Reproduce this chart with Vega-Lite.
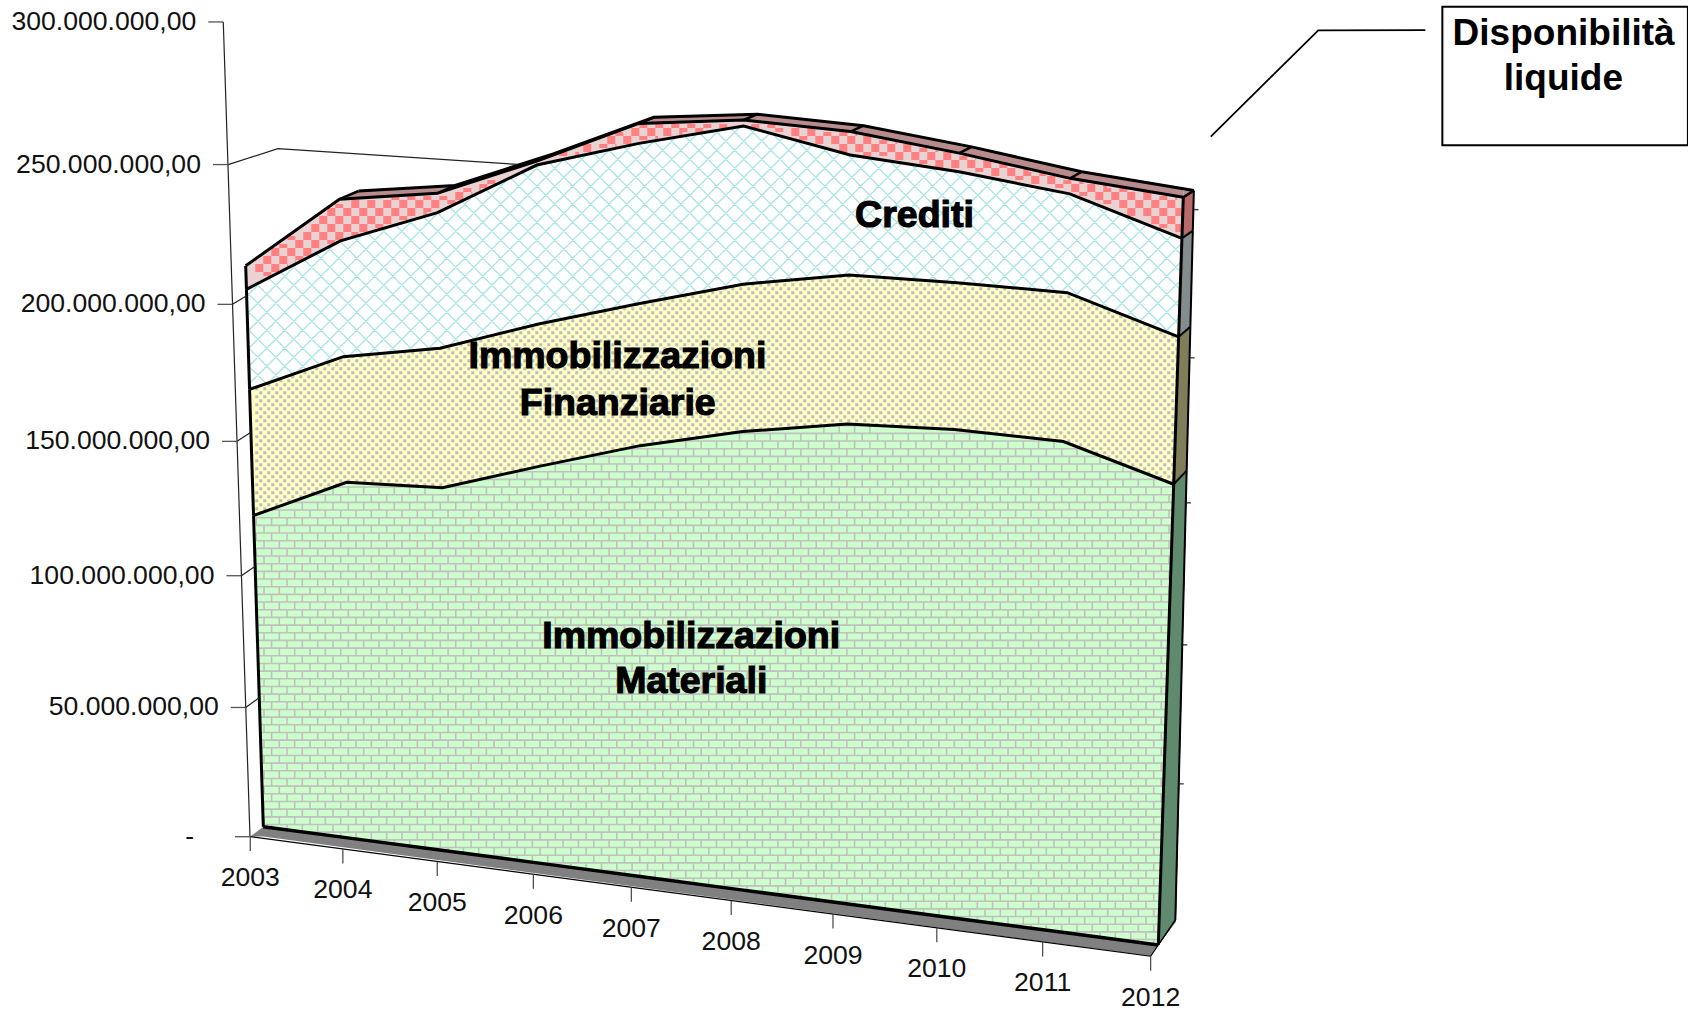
{"$schema":"https://vega.github.io/schema/vega-lite/v6.json","width":1688,"height":1012,"autosize":"none","padding":0,"background":"white","config":{"view":{"stroke":null}},
"data":{"values":[
{"part":"series","series":"Immobilizzazioni Materiali","rank":1,"year":2003,"value":119000000},{"part":"series","series":"Immobilizzazioni Finanziarie","rank":2,"year":2003,"value":46800000},{"part":"series","series":"Crediti","rank":3,"year":2003,"value":36500000},{"part":"series","series":"Disponibilità liquide","rank":4,"year":2003,"value":8500000},
{"part":"series","series":"Immobilizzazioni Materiali","rank":1,"year":2004,"value":134800000},{"part":"series","series":"Immobilizzazioni Finanziarie","rank":2,"year":2004,"value":45900000},{"part":"series","series":"Crediti","rank":3,"year":2004,"value":41600000},{"part":"series","series":"Disponibilità liquide","rank":4,"year":2004,"value":14800000},
{"part":"series","series":"Immobilizzazioni Materiali","rank":1,"year":2005,"value":136200000},{"part":"series","series":"Immobilizzazioni Finanziarie","rank":2,"year":2005,"value":50400000},{"part":"series","series":"Crediti","rank":3,"year":2005,"value":48100000},{"part":"series","series":"Disponibilità liquide","rank":4,"year":2005,"value":6800000},
{"part":"series","series":"Immobilizzazioni Materiali","rank":1,"year":2006,"value":147400000},{"part":"series","series":"Immobilizzazioni Finanziarie","rank":2,"year":2006,"value":50700000},{"part":"series","series":"Crediti","rank":3,"year":2006,"value":55500000},{"part":"series","series":"Disponibilità liquide","rank":4,"year":2006,"value":1400000},
{"part":"series","series":"Immobilizzazioni Materiali","rank":1,"year":2007,"value":158000000},{"part":"series","series":"Immobilizzazioni Finanziarie","rank":2,"year":2007,"value":50000000},{"part":"series","series":"Crediti","rank":3,"year":2007,"value":55200000},{"part":"series","series":"Disponibilità liquide","rank":4,"year":2007,"value":6800000},
{"part":"series","series":"Immobilizzazioni Materiali","rank":1,"year":2008,"value":166200000},{"part":"series","series":"Immobilizzazioni Finanziarie","rank":2,"year":2008,"value":51200000},{"part":"series","series":"Crediti","rank":3,"year":2008,"value":53800000},{"part":"series","series":"Disponibilità liquide","rank":4,"year":2008,"value":2000000},
{"part":"series","series":"Immobilizzazioni Materiali","rank":1,"year":2009,"value":172000000},{"part":"series","series":"Immobilizzazioni Finanziarie","rank":2,"year":2009,"value":51200000},{"part":"series","series":"Crediti","rank":3,"year":2009,"value":40400000},{"part":"series","series":"Disponibilità liquide","rank":4,"year":2009,"value":7800000},
{"part":"series","series":"Immobilizzazioni Materiali","rank":1,"year":2010,"value":173300000},{"part":"series","series":"Immobilizzazioni Finanziarie","rank":2,"year":2010,"value":49900000},{"part":"series","series":"Crediti","rank":3,"year":2010,"value":37000000},{"part":"series","series":"Disponibilità liquide","rank":4,"year":2010,"value":6200000},
{"part":"series","series":"Immobilizzazioni Materiali","rank":1,"year":2011,"value":172400000},{"part":"series","series":"Immobilizzazioni Finanziarie","rank":2,"year":2011,"value":50100000},{"part":"series","series":"Crediti","rank":3,"year":2011,"value":32700000},{"part":"series","series":"Disponibilità liquide","rank":4,"year":2011,"value":5100000},
{"part":"series","series":"Immobilizzazioni Materiali","rank":1,"year":2012,"value":161200000},{"part":"series","series":"Immobilizzazioni Finanziarie","rank":2,"year":2012,"value":49400000},{"part":"series","series":"Crediti","rank":3,"year":2012,"value":32400000},{"part":"series","series":"Disponibilità liquide","rank":4,"year":2012,"value":13400000},
{"part":"sky","year":2003,"value":210800000},{"part":"sky","year":2004,"value":237100000},{"part":"sky","year":2004,"value":237100000,"depth":1},{"part":"sky","year":2005,"value":241500000,"depth":1},{"part":"sky","year":2006,"value":255000000,"depth":1},{"part":"sky","year":2007,"value":270000000,"depth":1},{"part":"sky","year":2008,"value":273200000,"depth":1},{"part":"sky","year":2009,"value":271400000,"depth":1},{"part":"sky","year":2010,"value":266400000,"depth":1},{"part":"sky","year":2011,"value":260300000,"depth":1},{"part":"sky","year":2012,"value":256400000,"depth":1},
{"part":"anchor","year":2003,"value":0},
{"part":"lm","year":2003,"value":320000000,"depth2":1},{"part":"lm","year":2003,"value":210800000},{"part":"lm","year":2003,"value":-60000000},
{"part":"rm","year":2012,"value":320000000},{"part":"rm","year":2012,"value":256400000,"depth":1},{"part":"rm","year":2012,"value":0,"depth":1},{"part":"rm","year":2012,"value":0},{"part":"rm","year":2012,"value":-10000000},
{"part":"side","band":1,"year":2012,"value":256400000,"depth":1,"depth2":1},{"part":"side","band":1,"year":2012,"value":256400000,"depth":0,"depth2":1},{"part":"side","band":1,"year":2012,"value":8500000,"depth":0,"depth2":1},{"part":"side","band":1,"year":2012,"value":0,"depth":0,"depth2":0},
{"part":"side","band":2,"year":2012,"value":243000000,"depth":1,"depth2":1},{"part":"side","band":2,"year":2012,"value":243000000,"depth":0,"depth2":1},{"part":"side","band":2,"year":2012,"value":8500000,"depth":0,"depth2":1},{"part":"side","band":2,"year":2012,"value":0,"depth":0,"depth2":0},
{"part":"side","band":3,"year":2012,"value":210600000,"depth":1,"depth2":1},{"part":"side","band":3,"year":2012,"value":210600000,"depth":0,"depth2":1},{"part":"side","band":3,"year":2012,"value":8500000,"depth":0,"depth2":1},{"part":"side","band":3,"year":2012,"value":0,"depth":0,"depth2":0},
{"part":"side","band":4,"year":2012,"value":161200000,"depth":1,"depth2":1},{"part":"side","band":4,"year":2012,"value":161200000,"depth":0,"depth2":1},{"part":"side","band":4,"year":2012,"value":8500000,"depth":0,"depth2":1},{"part":"side","band":4,"year":2012,"value":0,"depth":0,"depth2":0},
{"part":"cap","year":2012,"value":256400000,"depth":0},{"part":"cap","year":2012,"value":256400000,"depth":1},
{"part":"floor","year":2003,"value":0,"depth":-0.45,"depth2":-0.45},{"part":"floor","year":2003,"value":0,"depth":0,"depth2":-0.45},{"part":"floor","year":2012,"value":0,"depth":-0.45,"depth2":0},{"part":"floor","year":2012,"value":0,"depth":0,"depth2":0},
{"part":"wall","year":2003,"value":249000000,"depth":-0.72},{"part":"wall","year":2003,"value":248000000,"depth":1.8},{"part":"wall","year":2005.5,"value":248000000,"depth":1.8},
{"part":"y","year":2003,"value":0,"label":"-"},{"part":"y","year":2003,"value":50000000,"label":"50.000.000,00"},{"part":"y","year":2003,"value":100000000,"label":"100.000.000,00"},{"part":"y","year":2003,"value":150000000,"label":"150.000.000,00"},{"part":"y","year":2003,"value":200000000,"label":"200.000.000,00"},{"part":"y","year":2003,"value":250000000,"label":"250.000.000,00"},{"part":"y","year":2003,"value":300000000,"label":"300.000.000,00"},
{"part":"x","year":2003,"value":0,"depth":-0.45},{"part":"x","year":2004,"value":0,"depth":-0.45},{"part":"x","year":2005,"value":0,"depth":-0.45},{"part":"x","year":2006,"value":0,"depth":-0.45},{"part":"x","year":2007,"value":0,"depth":-0.45},{"part":"x","year":2008,"value":0,"depth":-0.45},{"part":"x","year":2009,"value":0,"depth":-0.45},{"part":"x","year":2010,"value":0,"depth":-0.45},{"part":"x","year":2011,"value":0,"depth":-0.45},{"part":"x","year":2012,"value":0,"depth":-0.45},
{"part":"rt","year":2012,"value":50000000,"depth":1},{"part":"rt","year":2012,"value":100000000,"depth":1},{"part":"rt","year":2012,"value":150000000,"depth":1},{"part":"rt","year":2012,"value":200000000,"depth":1},{"part":"rt","year":2012,"value":250000000,"depth":1},
{"part":"note","year":2009.6,"value":244700000,"label":"Crediti"},{"part":"note","year":2006.78,"value":188500000,"label":"Immobilizzazioni"},{"part":"note","year":2006.78,"value":172100000,"label":"Finanziarie"},{"part":"note","year":2007.5,"value":91200000,"label":"Immobilizzazioni"},{"part":"note","year":2007.5,"value":74500000,"label":"Materiali"},
{"part":"note2","year":2015.12,"value":311100000,"label":"Disponibilità"},{"part":"note2","year":2015.14,"value":297100000,"label":"liquide"},
{"part":"call","year":2012.22,"value":276500000},{"part":"call","year":2013.1,"value":312000000},{"part":"call","year":2013.99,"value":313600000},
{"part":"box","year":2014.12,"value":321100000,"year2":2016.16,"value2":282200000}
]},
"transform":[
{"calculate":"datum.part=='series'?'g'+datum.year:datum.part+datum.year+'_'+datum.value+'_'+datum.depth+'_'+datum.depth2+'_'+datum.band","as":"gid"},
{"stack":"value","groupby":["gid"],"sort":[{"field":"rank","order":"ascending"}],"as":["base","lvl"]},
{"calculate":"(datum.year-2003)/9","as":"s"},
{"calculate":"datum.lvl/3e8","as":"t"},
{"calculate":"datum.base/3e8","as":"tb"},
{"calculate":"1-0.08326*datum.s-0.05531*datum.t","as":"w"},
{"calculate":"1-0.08326*datum.s-0.05531*datum.tb","as":"wb"},
{"calculate":"(798.56*datum.s-38.65*datum.t+263.3)/datum.w","as":"x0"},
{"calculate":"(39.62*datum.s-812.9*datum.t+826.7)/datum.w","as":"y0"},
{"calculate":"(798.56*datum.s-38.65*datum.tb+263.3)/datum.wb","as":"xb"},
{"calculate":"(39.62*datum.s-812.9*datum.tb+826.7)/datum.wb","as":"yb"},
{"calculate":"(29-12*datum.s)+(datum.t/0.8)*(3*datum.s-9)","as":"ddx"},
{"calculate":"(-22-3*datum.s)+(datum.t/0.8)*(14+3*datum.s)","as":"ddy"},
{"calculate":"(29-12*datum.s)+(datum.tb/0.8)*(3*datum.s-9)","as":"dbx"},
{"calculate":"(-22-3*datum.s)+(datum.tb/0.8)*(14+3*datum.s)","as":"dby"},
{"calculate":"datum.depth||0","as":"dz"},
{"calculate":"datum.depth2||0","as":"dz2"},
{"calculate":"datum.x0+datum.dz*datum.ddx","as":"fx"},
{"calculate":"datum.y0+datum.dz*datum.ddy","as":"fy"},
{"calculate":"datum.x0+datum.dz2*datum.ddx","as":"fx2"},
{"calculate":"datum.x0+datum.ddx","as":"bx"},
{"calculate":"datum.y0+datum.ddy","as":"by"},
{"calculate":"datum.xb+datum.dbx","as":"bxb"},
{"calculate":"datum.yb+datum.dby","as":"byb"},
{"calculate":"(-408*datum.lvl/1.5e8+836.7)/(1-0.0287*datum.lvl/1.5e8)","as":"ay"},
{"calculate":"250-(836.7-datum.ay)*0.0328","as":"ax"}
],
"encoding":{"x":{"field":"fx","type":"quantitative","scale":{"domain":[0,1688],"range":[0,1688]},"axis":null},"y":{"field":"fy","type":"quantitative","scale":{"domain":[0,1012],"range":[0,1012]},"axis":null}},
"layer":[
{"transform":[{"filter":"datum.part=='anchor'"}],"mark":{"type":"point","size":4,"filled":false,"opacity":1,"stroke":"#a8e4e4","strokeWidth":1.3,"shape":"M-300 -710l283 283m-265 -283l283 283m-265 -283l283 283m-265 -283l283 283m-265 -283l283 283m-265 -283l283 283m-265 -283l283 283m-265 -283l283 283m-265 -283l283 283m-265 -283l283 283m-265 -283l283 283m-265 -283l283 283m-265 -283l283 283m-265 -283l283 283m-265 -283l283 283m-265 -283l283 283m-265 -283l283 283m-265 -283l283 283m-265 -283l283 283m-265 -283l283 283m-265 -283l283 283m-265 -283l283 283m-265 -283l283 283m-265 -283l283 283m-265 -283l283 283m-265 -283l283 283m-265 -283l283 283m-265 -283l283 283m-265 -283l283 283m-265 -283l283 283m-265 -283l283 283m-265 -283l283 283m-265 -283l283 283m-265 -283l283 283m-265 -283l283 283m-265 -283l283 283m-265 -283l283 283m-265 -283l283 283m-265 -283l283 283m-265 -283l283 283m-265 -283l283 283m-265 -283l283 283m-265 -283l283 283m-265 -283l283 283m-265 -283l283 283m-265 -283l283 283m-265 -283l283 283m-265 -283l283 283m-265 -283l283 283m-265 -283l283 283m-265 -283l283 283m-265 -283l283 283m-265 -283l283 283m-265 -283l283 283m-265 -283l283 283m-265 -283l283 283m-265 -283l283 283m-265 -283l283 283m-265 -283l283 283m-265 -283l283 283m-265 -283l283 283m-265 -283l283 283m-265 -283l283 283m-265 -283M-300 -427l283 -283m-265 283l283 -283m-265 283l283 -283m-265 283l283 -283m-265 283l283 -283m-265 283l283 -283m-265 283l283 -283m-265 283l283 -283m-265 283l283 -283m-265 283l283 -283m-265 283l283 -283m-265 283l283 -283m-265 283l283 -283m-265 283l283 -283m-265 283l283 -283m-265 283l283 -283m-265 283l283 -283m-265 283l283 -283m-265 283l283 -283m-265 283l283 -283m-265 283l283 -283m-265 283l283 -283m-265 283l283 -283m-265 283l283 -283m-265 283l283 -283m-265 283l283 -283m-265 283l283 -283m-265 283l283 -283m-265 283l283 -283m-265 283l283 -283m-265 283l283 -283m-265 283l283 -283m-265 283l283 -283m-265 283l283 -283m-265 283l283 -283m-265 283l283 -283m-265 283l283 -283m-265 283l283 -283m-265 283l283 -283m-265 283l283 -283m-265 283l283 -283m-265 283l283 -283m-265 283l283 -283m-265 283l283 -283m-265 283l283 -283m-265 283l283 -283m-265 283l283 -283m-265 283l283 -283m-265 283l283 -283m-265 283l283 -283m-265 283l283 -283m-265 283l283 -283m-265 283l283 -283m-265 283l283 -283m-265 283l283 -283m-265 283l283 -283m-265 283l283 -283m-265 283l283 -283m-265 283l283 -283m-265 283l283 -283m-265 283l283 -283m-265 283l283 -283m-265 283l283 -283m-265 283l283 -283"}},
{"transform":[{"filter":"datum.rank==4"}],"mark":{"type":"area","fill":"#b88c8c"},"encoding":{"y2":{"datum":0}}},
{"transform":[{"filter":"datum.part=='sky'"}],"mark":{"type":"area","fill":"white"},"encoding":{"y2":{"datum":0}}},
{"transform":[{"filter":"datum.rank==4"}],"mark":{"type":"area","fill":"#ebd2d2"},"encoding":{"y2":{"field":"yb"}}},
{"transform":[{"filter":"datum.part=='anchor'"}],"mark":{"type":"point","size":4,"filled":false,"opacity":1,"stroke":"#ff8080","strokeWidth":4,"strokeDash":[8,8],"shape":"M0 -552.7H9M-8 -556.7H17M-8 -560.7H24.8M0 -564.7H32.7M0 -568.7H40.4M8 -572.7H48.3M8 -576.7H56.1M16 -580.7H64M32 -584.7H71.8M24 -588.7H81M40 -592.7H95M48 -596.7H108.6M48 -600.7H122.3M56 -604.7H136M56 -608.7H149.7M64 -612.7H163.5M64 -616.7H175.7M72 -620.7H184M88 -624.7H192.4M128 -628.7H200.7M192 -632.7H209M200 -636.7H217.4M216 -640.7H225.7M224 -644.7H234M296 -672.7H315.7M320 -676.7H334.5M320 -680.7H353.2M344 -684.7H371.7M344 -688.7H394.7M352 -692.7H419.2M368 -696.7H443.7M376 -700.7H468.7M488 -700.7H519M512 -696.7H556.3M528 -692.7H593.7M536 -688.7H613.7M552 -684.7H633.7M576 -680.7H654.3M576 -676.7H674.5M600 -672.7H694.7M632 -668.7H712.7M656 -664.7H730.2M672 -660.7H747.7M712 -656.7H765.1M728 -652.7H782.5M752 -648.7H799.7M768 -644.7H820.4M792 -640.7H843.7M808 -636.7H867.1M816 -632.7H890.5M832 -628.7H913.8M840 -624.7H918M856 -620.7H918M864 -616.7H918M864 -612.7H918M888 -608.7H918M888 -604.7H918M896 -600.7H918M912 -596.7H918"}},
{"transform":[{"filter":"datum.rank==2"}],"mark":{"type":"area","fill":"#ffffc4"},"encoding":{"y2":{"datum":700}}},
{"transform":[{"filter":"datum.part=='anchor'"}],"mark":{"type":"point","size":4,"filled":false,"opacity":1,"stroke":"#bdbdbd","strokeWidth":3,"strokeDash":[3,5],"shape":"M568 -550H615M516 -546H672M480 -542H721M460 -538H763M440 -534H805M420 -530H815M392 -526H825M372 -522H835M352 -518H845M332 -514H855M312 -510H865M292 -506H875M272 -502H886M260 -498H896M240 -494H906M228 -490H916M208 -486H916M196 -482H916M168 -478H916M124 -474H916M80 -470H916M68 -466H916M64 -462H916M52 -458H916M40 -454H916M28 -450H916M16 -446H916M4 -442H916M-8 -438h924m-920 4h920m-924 4h924m-920 4h920m-924 4h924m-920 4h920m-924 4h924m-920 4h920m-924 4h924m-920 4h920m-924 4h924m-920 4h920m-924 4h924m-920 4h920m-924 4h924m-920 4h920m-924 4h924m-920 4h920m-924 4h924m-920 4h920m-924 4h924m-920 4h920m-924 4h924m-920 4h920m-924 4h924m-920 4h920m-924 4h924m-920 4h920m-924 4h924m-920 4h920m-924 4h924m-920 4h920m-924 4"}},
{"transform":[{"filter":"datum.rank==1"}],"mark":{"type":"area","fill":"#ccffcc"},"encoding":{"y2":{"field":"yb"}}},
{"transform":[{"filter":"datum.part=='anchor'"}],"mark":{"type":"point","size":4,"filled":false,"opacity":1,"stroke":"#c0c0c0","strokeWidth":1.6,"shape":"M559 -401H620M468 -393.3H728M412 -385.7H801M362 -378H821M323 -370.3H841M285 -362.7H861M251 -355H880M217 -347.3H900M69 -339.7H169M183 -339.7H912M48 -332H912M27 -324.3H912M6 -316.7H912M-7 -309H912m-919 7.67h919m-919 7.67h919m-919 7.67h919m-919 7.67h919m-919 7.67h919m-919 7.67h919m-919 7.67h919m-919 7.67h919m-919 7.67h919m-919 7.67h919m-919 7.67h919m-919 7.67h919m-919 7.67h919m-919 7.67h919m-919 7.67h919m-919 7.67h919m-919 7.67h919m-919 7.67h919m-919 7.67h919m-919 7.67h919m-919 7.67h919m-919 7.67h919m-919 7.67h919m-919 7.67h919m-919 7.67h919m-919 7.67h919m-919 7.67h919m-919 7.67h919m-919 7.67h919m-919 7.67h919m-919 7.67h919m-919 7.67h919m-919 7.67h919m-919 7.67h919m-919 7.67h919m-919 7.67h919m-919 7.67h919m-919 7.67h919m-919 7.67h919m-919 7.67h919m-919 7.67h919m-919 7.67h919m-919 7.67h919m-919 7.67h919m-919 7.67h919m-919 7.67h919m-919 7.67h919m-919 7.67h919m-919 7.67h919m-919 7.67h919m-919 7.67h919m-919 7.67h919m-919 7.67h919m-919 7.67h919m-919 7.67h919m-919 7.67h919m-919 7.67h919m-919 7.67h919"}},
{"transform":[{"filter":"datum.part=='anchor'"}],"mark":{"type":"point","size":4,"filled":false,"opacity":1,"stroke":"#c0c0c0","strokeWidth":1.6,"strokeDash":[7.67,7.67],"shape":"M-7 -309V120M0.7 -301.3V120M8.3 -309V120M16 -316.7V120M23.7 -309V120M31.4 -316.7V120M39 -324.3V120M46.7 -316.7V120M54.4 -324.3V120M62 -332V120M69.7 -339.7V120M77.4 -332V120M85 -339.7V120M92.7 -332V120M100.4 -339.7V120M108 -332V120M115.7 -339.7V120M123.4 -332V120M131 -339.7V120M138.7 -332V120M146.4 -339.7V120M154 -332V120M161.7 -339.7V120M169.4 -332V120M177 -324.3V120M184.8 -332V120M192.4 -339.7V120M200.1 -332V120M207.8 -339.7V120M215.4 -332V120M223.1 -339.7V120M230.8 -347.3V120M238.4 -339.7V120M246.1 -347.3V120M253.8 -355V120M261.5 -347.3V120M269.1 -355V120M276.8 -347.3V120M284.5 -355V120M292.1 -362.7V120M299.8 -355V120M307.5 -362.7V120M315.1 -355V120M322.8 -362.7V120M330.5 -370.3V120M338.2 -362.7V120M345.8 -370.3V120M353.5 -362.7V120M361.2 -370.3V120M368.8 -378V120M376.5 -370.3V120M384.2 -378V120M391.8 -370.3V120M399.5 -378V120M407.2 -370.3V120M414.9 -378V120M422.5 -385.7V120M430.2 -378V120M437.9 -385.7V120M445.5 -378V120M453.2 -385.7V120M460.9 -378V120M468.5 -385.7V120M476.2 -393.3V120M483.9 -385.7V120M491.6 -393.3V120M499.2 -385.7V120M506.9 -393.3V120M514.6 -385.7V120M522.2 -393.3V120M529.9 -385.7V120M537.6 -393.3V120M545.2 -385.7V120M552.9 -393.3V120M560.6 -401V120M568.3 -393.3V120M575.9 -401V120M583.6 -393.3V120M591.3 -401V120M598.9 -393.3V120M606.6 -401V120M614.3 -393.3V120M622 -385.7V120M629.6 -393.3V120M637.3 -385.7V120M645 -393.3V120M652.6 -385.7V120M660.3 -393.3V120M668 -385.7V120M675.6 -393.3V120M683.3 -385.7V120M691 -393.3V120M698.6 -385.7V120M706.3 -393.3V120M714 -385.7V120M721.7 -393.3V120M729.3 -385.7V120M737 -378V120M744.7 -385.7V120M752.3 -378V120M760 -385.7V120M767.7 -378V120M775.3 -385.7V120M783 -378V120M790.7 -385.7V120M798.4 -378V120M806 -370.3V120M813.7 -378V120M821.4 -370.3V120M829 -362.7V120M836.7 -370.3V120M844.4 -362.7V120M852 -355V120M859.7 -362.7V120M867.4 -355V120M875 -347.3V120M882.7 -339.7V120M890.4 -347.3V120M898 -339.7V120M905.7 -332V120"}},
{"transform":[{"filter":"datum.part=='lm'"},{"calculate":"datum.fx2","as":"fx"}],"mark":{"type":"area","orient":"horizontal","fill":"white"},"encoding":{"x2":{"datum":0}}},
{"transform":[{"filter":"datum.part=='rm'"}],"mark":{"type":"area","orient":"horizontal","fill":"white"},"encoding":{"x2":{"datum":1688}}},
{"transform":[{"filter":"datum.rank==1"},{"calculate":"datum.xb","as":"fx"},{"calculate":"datum.yb","as":"fy"}],"mark":{"type":"area","fill":"white"},"encoding":{"y2":{"datum":1012}}},
{"transform":[{"filter":"datum.part=='side'&&datum.band==1"}],"mark":{"type":"area","orient":"horizontal","fill":"#b8696b"},"encoding":{"x2":{"field":"fx2"}}},
{"transform":[{"filter":"datum.part=='cap'"}],"mark":{"type":"area","fill":"#b88c8c"},"encoding":{"y2":{"field":"by"}}},
{"transform":[{"filter":"datum.part=='side'&&datum.band==2"}],"mark":{"type":"area","orient":"horizontal","fill":"#858c8d"},"encoding":{"x2":{"field":"fx2"}}},
{"transform":[{"filter":"datum.part=='side'&&datum.band==3"}],"mark":{"type":"area","orient":"horizontal","fill":"#7f7d5a"},"encoding":{"x2":{"field":"fx2"}}},
{"transform":[{"filter":"datum.part=='side'&&datum.band==4"}],"mark":{"type":"area","orient":"horizontal","fill":"#5f8a6e"},"encoding":{"x2":{"field":"fx2"}}},
{"transform":[{"filter":"datum.part=='floor'"},{"calculate":"datum.y0+max(datum.dz,datum.dz2)*datum.ddy","as":"fy"},{"calculate":"datum.y0+min(datum.dz,datum.dz2)*datum.ddy","as":"fyl"}],"mark":{"type":"area","fill":"#808080"},"encoding":{"y2":{"field":"fyl"}}},
{"transform":[{"filter":"datum.part=='floor'&&datum.dz==-0.45"}],"mark":{"type":"line","stroke":"black","strokeWidth":1.2}},
{"transform":[{"filter":"datum.part=='floor'&&datum.dz==-0.45&&datum.year==2012"}],"mark":{"type":"rule","stroke":"black","strokeWidth":1.2},"encoding":{"x2":{"field":"bx"},"y2":{"field":"by"}}},
{"transform":[{"filter":"datum.part=='series'"}],"mark":{"type":"line","stroke":"black","strokeWidth":3},"encoding":{"detail":{"field":"series"}}},
{"transform":[{"filter":"datum.rank==1"},{"calculate":"datum.xb","as":"fx"},{"calculate":"datum.yb","as":"fy"}],"mark":{"type":"line","stroke":"black","strokeWidth":3.5}},
{"transform":[{"filter":"datum.rank==4&&datum.year>=2004"},{"calculate":"datum.bx","as":"fx"},{"calculate":"datum.by","as":"fy"}],"mark":{"type":"line","stroke":"black","strokeWidth":3}},
{"transform":[{"filter":"datum.rank==4&&datum.year>=2004"}],"mark":{"type":"rule","stroke":"black","strokeWidth":2.5},"encoding":{"x2":{"field":"bx"},"y2":{"field":"by"}}},
{"transform":[{"filter":"datum.part=='series'&&(datum.year==2003||datum.year==2012)"}],"mark":{"type":"rule","stroke":"black","strokeWidth":3},"encoding":{"x2":{"field":"xb"},"y2":{"field":"yb"}}},
{"transform":[{"filter":"datum.part=='series'&&datum.year==2012"},{"calculate":"datum.bx","as":"fx"},{"calculate":"datum.by","as":"fy"}],"mark":{"type":"rule","stroke":"black","strokeWidth":2},"encoding":{"x2":{"field":"bxb"},"y2":{"field":"byb"}}},
{"transform":[{"filter":"datum.part=='series'&&datum.year==2012"}],"mark":{"type":"rule","stroke":"black","strokeWidth":2},"encoding":{"x2":{"field":"bx"},"y2":{"field":"by"}}},
{"transform":[{"filter":"datum.rank==1&&datum.year==2012"},{"calculate":"datum.xb","as":"fx"},{"calculate":"datum.yb","as":"fy"}],"mark":{"type":"rule","stroke":"black","strokeWidth":1.2},"encoding":{"x2":{"field":"bxb"},"y2":{"field":"byb"}}},
{"transform":[{"filter":"datum.part=='wall'"}],"mark":{"type":"line","stroke":"#222222","strokeWidth":1.2}},
{"transform":[{"filter":"datum.part=='y'"},{"calculate":"datum.ax","as":"fx"},{"calculate":"datum.ay","as":"fy"}],"mark":{"type":"line","stroke":"#222222","strokeWidth":1.2}},
{"transform":[{"filter":"datum.part=='y'"},{"calculate":"datum.ax-15","as":"fx"},{"calculate":"datum.ay","as":"fy"}],"mark":{"type":"rule","stroke":"#555555","strokeWidth":1.3},"encoding":{"x2":{"field":"ax"}}},
{"transform":[{"filter":"datum.part=='y'&&datum.value>0&&datum.value<=200000000"},{"calculate":"datum.ax","as":"fx"},{"calculate":"datum.ay","as":"fy"}],"mark":{"type":"rule","stroke":"#222222","strokeWidth":1.2},"encoding":{"x2":{"field":"x0"},"y2":{"field":"y0"}}},
{"transform":[{"filter":"datum.part=='y'"},{"calculate":"datum.value==0?datum.ax-56:datum.ax-27","as":"fx"},{"calculate":"datum.ay","as":"fy"}],"mark":{"type":"text","align":"right","baseline":"middle","font":"Liberation Sans","fontSize":26.6,"fill":"#111111"},"encoding":{"text":{"field":"label"}}},
{"transform":[{"filter":"datum.part=='x'"},{"calculate":"datum.fy+14.5","as":"yt"}],"mark":{"type":"rule","stroke":"#444444","strokeWidth":1.2},"encoding":{"y2":{"field":"yt"}}},
{"transform":[{"filter":"datum.part=='x'"},{"calculate":"datum.fy+41.5","as":"fy"}],"mark":{"type":"text","align":"center","baseline":"middle","font":"Liberation Sans","fontSize":26.6,"fill":"#111111"},"encoding":{"text":{"field":"year","type":"nominal"}}},
{"transform":[{"filter":"datum.part=='rt'"},{"calculate":"datum.fx+5","as":"xt"}],"mark":{"type":"rule","stroke":"#222222","strokeWidth":1.2},"encoding":{"x2":{"field":"xt"}}},
{"transform":[{"filter":"datum.part=='note'"}],"mark":{"type":"text","align":"center","baseline":"middle","font":"Liberation Sans","fontWeight":"bold","fontSize":37.5,"fill":"black","stroke":"black","strokeWidth":1.2},"encoding":{"text":{"field":"label"}}},
{"transform":[{"filter":"datum.part=='box'"},{"calculate":"(datum.year2-2003)/9","as":"s2"},{"calculate":"datum.value2/3e8","as":"t2"},{"calculate":"1-0.08326*datum.s2-0.05531*datum.t2","as":"w2"},{"calculate":"(798.56*datum.s2-38.65*datum.t2+263.3)/datum.w2","as":"bx2"},{"calculate":"(39.62*datum.s2-812.9*datum.t2+826.7)/datum.w2","as":"by2"}],"mark":{"type":"rect","fill":"white","stroke":"black","strokeWidth":2},"encoding":{"x2":{"field":"bx2"},"y2":{"field":"by2"}}},
{"transform":[{"filter":"datum.part=='note2'"}],"mark":{"type":"text","align":"center","baseline":"alphabetic","font":"Liberation Sans","fontWeight":"bold","fontSize":37,"fill":"black"},"encoding":{"text":{"field":"label"}}},
{"transform":[{"filter":"datum.part=='call'"}],"mark":{"type":"line","stroke":"black","strokeWidth":1.8}}
]}
